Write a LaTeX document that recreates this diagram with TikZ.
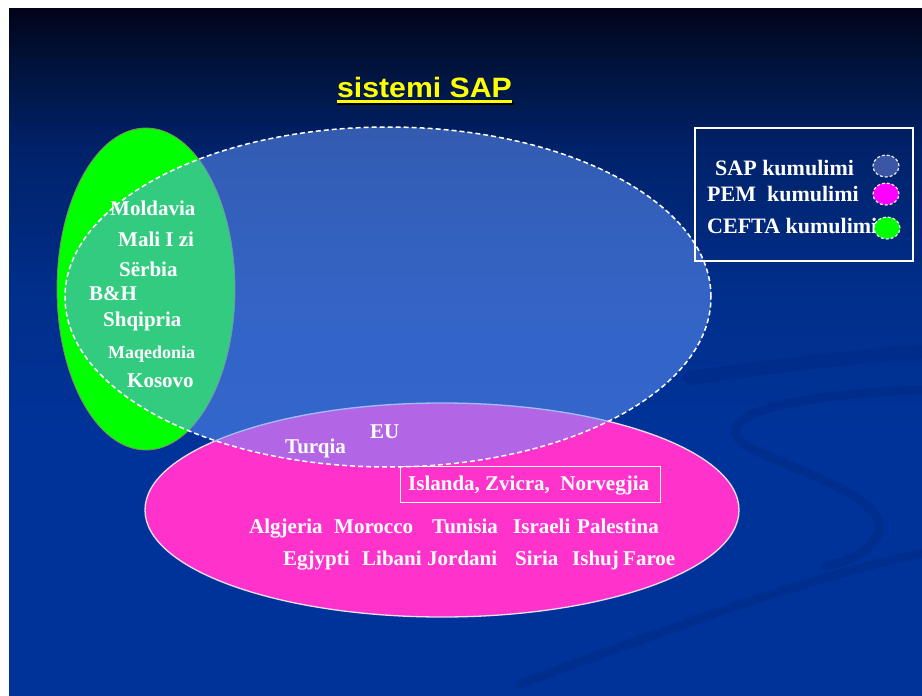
\documentclass[tikz,border=0pt]{standalone}
\usepackage{fontspec}
\setmainfont{Liberation Serif}
\newfontfamily\titlefont{Liberation Sans}
\usetikzlibrary{shapes.geometric}
\definecolor{bgA}{HTML}{03031A}
\definecolor{bgB}{HTML}{001238}
\definecolor{bgC}{HTML}{00226A}
\definecolor{bgD}{HTML}{002F8C}
\definecolor{bgE}{HTML}{003399}
\definecolor{swoosh}{HTML}{002A85}
\definecolor{cefta}{HTML}{00FF00}
\definecolor{pem}{HTML}{FF33CC}
\definecolor{pemleg}{HTML}{FF00FF}
\definecolor{sapfill}{HTML}{6699FF}
\definecolor{sapleg}{HTML}{3A56A5}
\definecolor{greenedge}{HTML}{8A8A60}
\definecolor{pinkedge}{HTML}{E6E0F0}
\definecolor{titleyellow}{HTML}{FFFF00}
\pgfdeclareverticalshading{bgshade}{100bp}{color(0bp)=(bgE); color(25bp)=(bgE); color(44.35bp)=(bgE); color(53.8bp)=(bgD); color(64.7bp)=(bgC); color(71.2bp)=(bgB); color(75bp)=(bgA); color(100bp)=(bgA)}
\newcommand\wlabel[5][]{%
  \node[lbl,#1] (#2) at (#3,#4) {#5};}
\begin{document}
\begin{tikzpicture}[x=1pt,y=-1pt,
  lbl/.style={text=white, font=\fontsize{21}{23}\selectfont\bfseries, inner sep=0pt, anchor=base west},
  small/.style={font=\fontsize{18}{20}\selectfont\bfseries},
  legtext/.style={font=\fontsize{22}{24}\selectfont\bfseries},
  legdot/.style={ellipse, minimum width=26pt, minimum height=22pt, inner sep=0pt, draw=white!85!gray, line width=1.2pt, dash pattern=on 3pt off 2pt},
  sapdash/.style={draw=white, line width=1.5pt, dash pattern=on 5pt off 3pt}]
\fill[white] (0,0) rectangle (922,696);
\useasboundingbox (0,0) rectangle (922,696);
\shade[shading=bgshade] (9,8) rectangle (922,696);
% decorative swooshes
\begin{scope}[draw=swoosh, line cap=round, opacity=0.55]
  \draw[line width=14pt, opacity=0.5] (690,378) .. controls (780,365) and (860,356) .. (922,352);
  \draw[line width=9pt] (520,684) .. controls (680,625) and (800,580) .. (922,553);
  \draw[line width=9pt] (922,390) .. controls (840,392) and (735,405) .. (735,432) .. controls (735,455) and (860,480) .. (878,520) .. controls (885,540) and (860,560) .. (825,566);
\end{scope}
% title
\node[font=\titlefont\bfseries\fontsize{28}{30}\selectfont, text=titleyellow, anchor=base, inner sep=0pt] (title) at (424.5,97) {\scalebox{1.08}[1]{sistemi SAP}};
\draw[black, line width=3pt] ([xshift=1.5pt,yshift=-6pt]title.base west) -- ([xshift=1.5pt,yshift=-6pt]title.base east);
\draw[titleyellow, line width=3pt] ([yshift=-4.5pt]title.base west) -- ([yshift=-4.5pt]title.base east);
% CEFTA ellipse
\draw[draw=greenedge, line width=0.8pt, fill=cefta] (146,289) ellipse [x radius=89pt, y radius=161pt];
% PEM ellipse
\draw[draw=pinkedge, line width=1.3pt, fill=pem] (442,510) ellipse [x radius=297pt, y radius=107pt];
% SAP ellipse
\fill[sapfill, fill opacity=0.5] (388,297) ellipse [x radius=323pt, y radius=170pt];
\draw[sapdash] (388,297) ellipse [x radius=323pt, y radius=170pt];
% CEFTA countries
\wlabel{moldavia}{110}{215}{Moldavia}
\wlabel{mali}{118}{246}{Mali I zi}
\wlabel{serbia}{119}{276}{Sërbia}
\wlabel{bh}{89}{300}{B\&H}
\wlabel{shqipria}{103}{326}{Shqipria}
\wlabel[small]{maqedonia}{108}{358}{Maqedonia}
\wlabel{kosovo}{127}{387}{Kosovo}
% EU / PEM
\wlabel{turqia}{285}{453}{Turqia}
\wlabel{eu}{370}{438}{EU}
\node[draw=white, line width=1pt, minimum width=260pt, minimum height=36pt, inner sep=0pt] (efta) at (530,484) {};
\wlabel{islanda}{408}{490}{Islanda, Zvicra,\ \ Norvegjia}
\wlabel{algjeria}{249}{533}{Algjeria}
\wlabel{morocco}{334}{533}{Morocco}
\wlabel{tunisia}{432}{533}{Tunisia}
\wlabel{israeli}{513}{533}{Israeli}
\wlabel{palestina}{577}{533}{Palestina}
\wlabel{egjypti}{283}{565}{Egjypti}
\wlabel{libani}{362}{565}{Libani}
\wlabel{jordani}{427}{565}{Jordani}
\wlabel{siria}{515}{565}{Siria}
\wlabel{ishuj}{572}{565}{Ishuj}
\wlabel{faroe}{623}{565}{Faroe}
% legend
\node[draw=white, line width=1.5pt, minimum width=218pt, minimum height=133pt, inner sep=0pt] (legend) at (804,194.5) {};
\wlabel[legtext]{legsap}{715}{175}{SAP kumulimi}
\wlabel[legtext]{legpem}{707}{201}{PEM\ \ kumulimi}
\wlabel[legtext]{legcefta}{707}{233}{CEFTA kumulimi}
\node[legdot, fill=sapleg] (dotsap) at (886,166) {};
\node[legdot, fill=pemleg] (dotpem) at (886,194) {};
\node[legdot, fill=cefta] (dotcefta) at (887,228) {};
\end{tikzpicture}
\end{document}
